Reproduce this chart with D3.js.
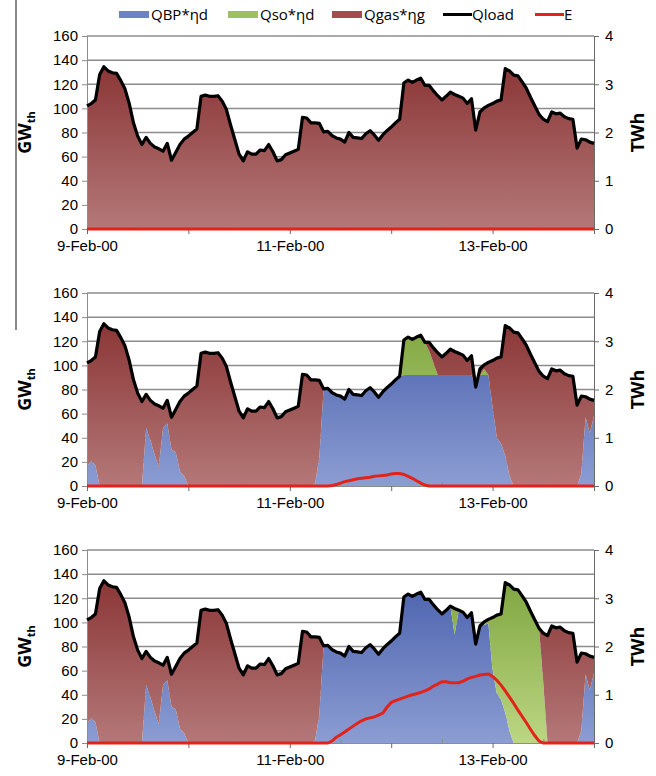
<!DOCTYPE html>
<html>
<head>
<meta charset="utf-8">
<script src="https://cdn.jsdelivr.net/npm/d3@7"></script>
<style>
  body { margin: 0; background: #fff; }
  svg { display: block; font-family: "Open Sans", sans-serif; }
  .tick text { font-size: 15px; fill: #000; }
</style>
</head>
<body>
<svg width="656" height="776"></svg>
<script>
// hourly values, 9-Feb-00 00:00 .. 14-Feb-00 00:00
var startDate = new Date(2000, 1, 9);
var endDate = new Date(2000, 1, 14);

var qload = [102,104,107,128,134.5,131,129.5,129,123,116,104,88,77,70,76,71,68,66.5,64.5,71,57,63.5,70,74.5,
  77,80,82.8,110,111,110,110,110.5,106,99,86,74,62,56.5,64,62,62,65.5,65,70,64,56.5,57.5,61.5,
  63,64.5,66,92.5,92,88,88,87.5,80.5,81,77.5,75.5,74.5,72,80,76,75.5,75,79,81.5,78,73.5,78,81.5,
  84.5,88,91,121,123.5,121.5,123.5,125,119,119,114.5,110.5,107,110,113.5,111.5,110,108.5,104,108,
  82,97,100.5,102.5,104,106,107,133,131,127.5,127,122,116.5,109,102,95,91,89,97,95.5,96,93,91.5,91,
  67,74.5,74,72,71];

// panel 2: QBP capped, small solar contribution
var bp2 = [16,21,17,0,0,0,0,0,0,0,0,0,0,0,48,38,26,16,48,52,30,28,12,8,
  0,0,0,0,0,0,0,0,0,0,0,0,0,0,0,0,0,0,0,0,0,0,0,0,
  0,0,0,0,0,0,2,24,80.5,81,77.5,75.5,74.5,72,80,76,75.5,75,79,81.5,78,73.5,78,81.5,
  84.5,88,91,92,92,92,92,92,92,92,92,92,92,92,92,92,92,92,92,92,
  82,92,92,92,65,40,35,25,8,0,0,0,0,0,0,0,0,0,0,0,0,0,0,0,
  0,10,57,44,58];
var so2 = [0,0,0,0,0,0,0,0,0,0,0,0,0,0,0,0,0,0,0,0,0,0,0,0,
  0,0,0,0,0,0,0,0,0,0,0,0,0,0,0,0,0,0,0,0,0,0,0,0,
  0,0,0,0,0,0,0,0,0,0,0,0,0,0,0,0,0,0,0,0,0,0,0,0,
  0,0,0,29,31.5,29.5,31.5,33,27,20,10,0,0,0,0,0,0,0,0,0,
  0,0,5,0,0,0,0,0,0,0,0,0,0,0,0,0,0,0,0,0,0,0,0,0,
  0,0,0,0,0];
var e2 = [0,0,0,0,0,0,0,0,0,0,0,0,0,0,0,0,0,0,0,0,0,0,0,0,
  0,0,0,0,0,0,0,0,0,0,0,0,0,0,0,0,0,0,0,0,0,0,0,0,
  0,0,0,0,0,0,0,0,0,0,0.01,0.03,0.06,0.09,0.11,0.13,0.15,0.16,0.17,0.18,0.2,0.21,0.22,0.23,
  0.25,0.26,0.26,0.24,0.2,0.16,0.11,0.06,0.02,0,0,0,0,0,0,0,0,0,0,0,
  0,0,0,0,0,0,0,0,0,0,0,0,0,0,0,0,0,0,0,0,0,0,0,0,
  0,0,0,0,0];

// panel 3: QBP follows load, solar takes over on 13-Feb
var bp3 = [16,21,17,0,0,0,0,0,0,0,0,0,0,0,48,38,26,16,48,52,30,28,12,8,
  0,0,0,0,0,0,0,0,0,0,0,0,0,0,0,0,0,0,0,0,0,0,0,0,
  0,0,0,0,0,0,2,24,80.5,81,77.5,75.5,74.5,72,80,76,75.5,75,79,81.5,78,73.5,78,81.5,
  84.5,88,91,121,123.5,121.5,123.5,125,119,119,114.5,110.5,107,110,113.5,90,110,108.5,104,108,
  82,97,98,99,60,41,36,25,10,0,0,0,0,0,0,0,0,0,0,0,0,0,0,0,
  0,10,57,44,58];
var so3 = [0,0,0,0,0,0,0,0,0,0,0,0,0,0,0,0,0,0,0,0,0,0,0,0,
  0,0,0,0,0,0,0,0,0,0,0,0,0,0,0,0,0,0,0,0,0,0,0,0,
  0,0,0,0,0,0,0,0,0,0,0,0,0,0,0,0,0,0,0,0,0,0,0,0,
  0,0,0,0,0,0,0,0,0,0,0,0,0,0,0,21.5,0,0,0,0,
  0,0,2.5,3.5,44,65,71,108,121,127.5,127,122,116.5,109,102,95,50,0,0,0,0,0,0,0,
  0,0,0,0,0];
var e3 = [0,0,0,0,0,0,0,0,0,0,0,0,0,0,0,0,0,0,0,0,0,0,0,0,
  0,0,0,0,0,0,0,0,0,0,0,0,0,0,0,0,0,0,0,0,0,0,0,0,
  0,0,0,0,0,0,0,0,0,0,0.04,0.12,0.17,0.23,0.29,0.35,0.41,0.46,0.5,0.52,0.54,0.58,0.62,0.74,
  0.84,0.88,0.91,0.94,0.97,1.0,1.02,1.05,1.08,1.12,1.18,1.22,1.27,1.27,1.25,1.25,1.25,1.28,1.33,1.36,
  1.38,1.41,1.42,1.43,1.38,1.3,1.2,1.08,0.95,0.82,0.68,0.55,0.42,0.28,0.15,0.04,0,0,0,0,0,0,0,0,
  0,0,0,0,0];
var zeros = qload.map(function () { return 0; });

var panels = [
  { top: 36, bp: zeros, so: zeros, e: zeros },
  { top: 293, bp: bp2, so: so2, e: e2 },
  { top: 550, bp: bp3, so: so3, e: e3 }
];

var yTicks = [0, 20, 40, 60, 80, 100, 120, 140, 160];
var y2Ticks = [0, 1, 2, 3, 4];
var legendItems = [
  { name: "QBP*\u03b7d", type: "area", fill: "#6d82c4", x: 119 },
  { name: "Qso*\u03b7d", type: "area", fill: "#9fc062", x: 228 },
  { name: "Qgas*\u03b7g", type: "area", fill: "#a14d4d", x: 332 },
  { name: "Qload", type: "line", fill: "#000", x: 443 },
  { name: "E", type: "line", fill: "#e2231a", x: 535 }
];

var svg = d3.select("svg");
var ph = 193, left = 87, right = 594;

var x = d3.scaleTime().domain([startDate, endDate]).range([left, right]);
var fmt = d3.timeFormat("%-d-%b-%y");

var defs = svg.append("defs");

// stray frame line at the left edge
svg.append("line")
  .attr("x1", 16).attr("x2", 16).attr("y1", 0).attr("y2", 330)
  .attr("stroke", "#8a8a8a").attr("stroke-width", 2);

// legend
var lg = svg.append("g").attr("font-size", 15);
legendItems.forEach(function (d) {
  if (d.type == "area") {
    lg.append("rect").attr("x", d.x).attr("y", 11).attr("width", 30).attr("height", 7).attr("fill", d.fill);
  } else {
    lg.append("line").attr("x1", d.x).attr("x2", d.x + 29).attr("y1", 14.5).attr("y2", 14.5)
      .attr("stroke", d.fill).attr("stroke-width", 3);
  }
  lg.append("text").attr("x", d.x + (d.type == "area" ? 32 : 29)).attr("y", 20).text(d.name);
});

panels.forEach(function (p, pi) {
  var y = d3.scaleLinear().domain([0, 160]).range([p.top + ph, p.top]);
  var y2 = d3.scaleLinear().domain([0, 4]).range([p.top + ph, p.top]);

  var gradients = [
    { id: "gbp" + pi, c0: "#4b62ad", c1: "#8c9dd3" },
    { id: "gso" + pi, c0: "#7fa640", c1: "#bcd682" },
    { id: "ggas" + pi, c0: "#8b3636", c1: "#b47878" }
  ];
  gradients.forEach(function (g) {
    var lgr = defs.append("linearGradient").attr("id", g.id)
      .attr("gradientUnits", "userSpaceOnUse")
      .attr("x1", 0).attr("x2", 0).attr("y1", y(135)).attr("y2", y(0));
    lgr.append("stop").attr("offset", 0).attr("stop-color", g.c0);
    lgr.append("stop").attr("offset", 1).attr("stop-color", g.c1);
  });

  var rows = qload.map(function (v, i) {
    return {
      date: d3.timeHour.offset(startDate, i),
      bp: p.bp[i],
      so: p.so[i],
      gas: Math.max(0, v - p.bp[i] - p.so[i]),
      load: v,
      e: p.e[i]
    };
  });

  var g = svg.append("g");

  // gridlines
  g.selectAll(".grid").data(yTicks.slice(1)).enter().append("line")
    .attr("x1", left).attr("x2", right)
    .attr("y1", function (d) { return y(d); }).attr("y2", function (d) { return y(d); })
    .attr("stroke", "#8c8c8c").attr("stroke-width", 1.5);

  var series = d3.stack().keys(["bp", "so", "gas"])(rows);
  var area = d3.area()
    .x(function (d) { return x(d.data.date); })
    .y0(function (d) { return y(d[0]); })
    .y1(function (d) { return y(d[1]); });

  g.selectAll(".area").data(series).enter().append("path")
    .attr("fill", function (d, i) { return "url(#" + gradients[i].id + ")"; })
    .attr("d", area);

  // axes
  g.append("g").attr("transform", "translate(" + left + ",0)")
    .call(d3.axisLeft(y).tickValues(yTicks).tickSize(5).tickPadding(4))
    .call(function (a) {
      a.select(".domain").attr("stroke", "#8c8c8c");
      a.selectAll(".tick line").attr("stroke", "#8c8c8c");
    });
  g.append("g").attr("transform", "translate(" + right + ",0)")
    .call(d3.axisRight(y2).tickValues(y2Ticks).tickSize(5).tickPadding(6).tickFormat(d3.format("d")))
    .call(function (a) {
      a.select(".domain").attr("stroke", "#6a6a6a");
      a.selectAll(".tick line").attr("stroke", "#6a6a6a");
    });
  g.append("g").attr("transform", "translate(0," + (p.top + ph) + ")")
    .call(d3.axisBottom(x).ticks(d3.timeDay.every(1)).tickSize(5).tickPadding(6)
      .tickFormat(function (d, i) { return i % 2 ? "" : fmt(d); }))
    .call(function (a) {
      a.select(".domain").attr("stroke", "#8c8c8c");
      a.selectAll(".tick line").attr("stroke", "#6a6a6a");
    });
  g.append("g").attr("transform", "translate(0," + (p.top + ph) + ")")
    .call(d3.axisBottom(x).tickValues(d3.timeHour.every(12).range(startDate, endDate)
        .filter(function (d) { return d.getHours() == 12; }))
      .tickSize(-4).tickFormat(""))
    .call(function (a) {
      a.select(".domain").remove();
      a.selectAll(".tick line").attr("stroke", "#8c8c8c");
    });

  // E and load lines
  g.append("path").datum(rows)
    .attr("fill", "none").attr("stroke", "#e2231a").attr("stroke-width", 3)
    .attr("d", d3.line().x(function (d) { return x(d.date); }).y(function (d) { return y2(d.e); }));
  g.append("path").datum(rows)
    .attr("fill", "none").attr("stroke", "#000").attr("stroke-width", 3.2)
    .attr("stroke-linejoin", "round")
    .attr("d", d3.line().x(function (d) { return x(d.date); }).y(function (d) { return y(d.load); }));

  // axis titles
  var t1 = g.append("text")
    .attr("transform", "translate(31," + (p.top + ph / 2) + ") rotate(-90)")
    .attr("text-anchor", "middle").attr("font-size", 18).attr("font-weight", "bold");
  t1.append("tspan").text("GW");
  t1.append("tspan").attr("font-size", 11).attr("dy", 4).text("th");
  g.append("text")
    .attr("transform", "translate(644," + (p.top + ph / 2) + ") rotate(-90)")
    .attr("text-anchor", "middle").attr("font-size", 18).attr("font-weight", "bold")
    .text("TWh");
});
</script>
</body>
</html>
